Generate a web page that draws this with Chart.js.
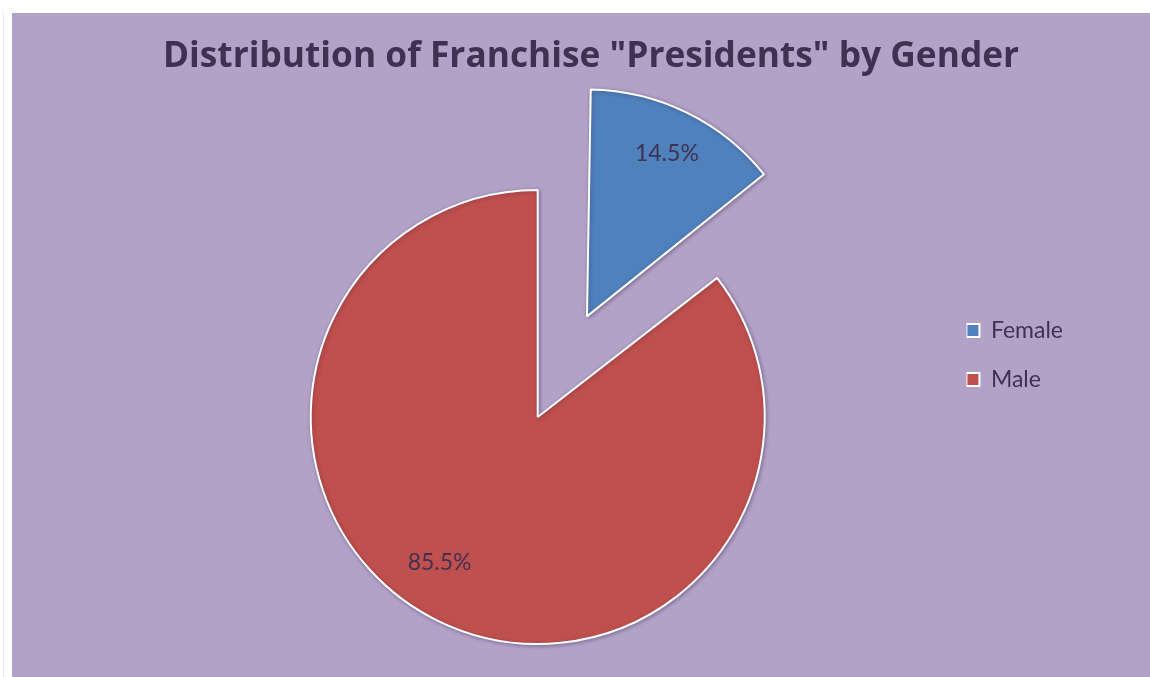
<!DOCTYPE html>
<html>
<head>
<meta charset="utf-8">
<script src="https://cdn.jsdelivr.net/npm/chart.js@4.4.1/dist/chart.umd.min.js"></script>
<style>
  html, body { margin: 0; padding: 0; background: #ffffff; width: 1150px; height: 677px; overflow: hidden; }
  #edge { position: absolute; left: 3px; top: 12px; width: 1px; height: 665px; background: #ededed; }
  #c { position: absolute; left: 12px; top: 13px; background: #B3A2C7; }
</style>
</head>
<body>
<div id="edge"></div>
<canvas id="c" width="1138" height="664"></canvas>
<script>
// ---- data ----
const chartTitle = 'Distribution of Franchise "Presidents" by Gender';
const categories = ['Female', 'Male'];
const values = [14.5, 85.5];

// ---- style ----
const sliceColors = ['#4F81BD', '#C0504D'];
const explode = [448, 0];            // Chart.js v4 translates arcs by offset/4
const textColor = '#3F3151';
const labelPlacement = [            // polar placement of the value labels (fraction of radius, extra turn in rad)
  { r: 0.80, turn: 0 },
  { r: 0.775, turn: 0.136 }
];

const total = values.reduce((a, b) => a + b, 0);

function radiusFix(el) {
  const off = (el.options && el.options.offset || 0) / 4;
  return off * (1 - Math.sin(Math.min(Math.PI, el.circumference)));
}

const piePlugin = {
  id: 'pieExtras',
  afterDatasetUpdate(chart, args) {
    // keep exploded slices at the same radius as the rest of the pie
    args.meta.data.forEach(el => {
      const f = radiusFix(el);
      if (f) el.outerRadius = el.outerRadius - f;
    });
  },
  beforeDatasetsDraw(chart) {
    const ctx = chart.ctx;
    ctx.save();
    ctx.shadowColor = 'rgba(40,20,60,0.35)';
    ctx.shadowBlur = 4;
    ctx.shadowOffsetX = 1;
    ctx.shadowOffsetY = 1;
  },
  afterDatasetsDraw(chart) {
    const ctx = chart.ctx;
    ctx.restore();
    const meta = chart.getDatasetMeta(0);
    ctx.save();
    ctx.fillStyle = textColor;
    ctx.font = '23px Lato';
    ctx.textAlign = 'center';
    ctx.textBaseline = 'middle';
    meta.data.forEach((el, i) => {
      const off = (el.options.offset || 0) / 4;
      const mid = (el.startAngle + el.endAngle) / 2;
      const p = labelPlacement[i];
      const cx = el.x + Math.cos(mid) * off;
      const cy = el.y + Math.sin(mid) * off;
      const a = mid + p.turn;
      const r = (el.outerRadius + radiusFix(el)) * p.r;
      const txt = (values[i] / total * 100).toFixed(1) + '%';
      ctx.fillText(txt, cx + Math.cos(a) * r, cy + Math.sin(a) * r);
    });
    ctx.restore();
  }
};

new Chart(document.getElementById('c'), {
  type: 'pie',
  data: {
    labels: categories,
    datasets: [{
      data: values,
      backgroundColor: sliceColors,
      borderColor: '#FFFFFF',
      borderWidth: 2,
      offset: explode,
      hoverOffset: 0,
      radius: 227,
      cutout: '0%',
      clip: false
    }]
  },
  options: {
    responsive: false,
    animation: false,
    devicePixelRatio: 1,
    events: [],
    cutout: '0%',
    layout: { padding: { left: 97, right: 77, top: 20, bottom: 162 } },
    plugins: {
      title: {
        display: true,
        text: chartTitle,
        color: textColor,
        font: { family: 'Open Sans', size: 35.3, weight: 'bold' },
        padding: { top: 3, bottom: 240.6 }
      },
      legend: {
        display: true,
        position: 'right',
        align: 'start',
        fullSize: false,
        labels: {
          color: textColor,
          font: { family: 'Lato', size: 23, lineHeight: 49 / 23 },
          boxWidth: 13,
          boxHeight: 13,
          padding: 0,
          generateLabels(chart) {
            const items = Chart.overrides.pie.plugins.legend.labels.generateLabels(chart);
            items.forEach(it => { it.text = [it.text]; });
            return items;
          }
        }
      },
      tooltip: { enabled: false }
    }
  },
  plugins: [piePlugin]
});
</script>
</body>
</html>
